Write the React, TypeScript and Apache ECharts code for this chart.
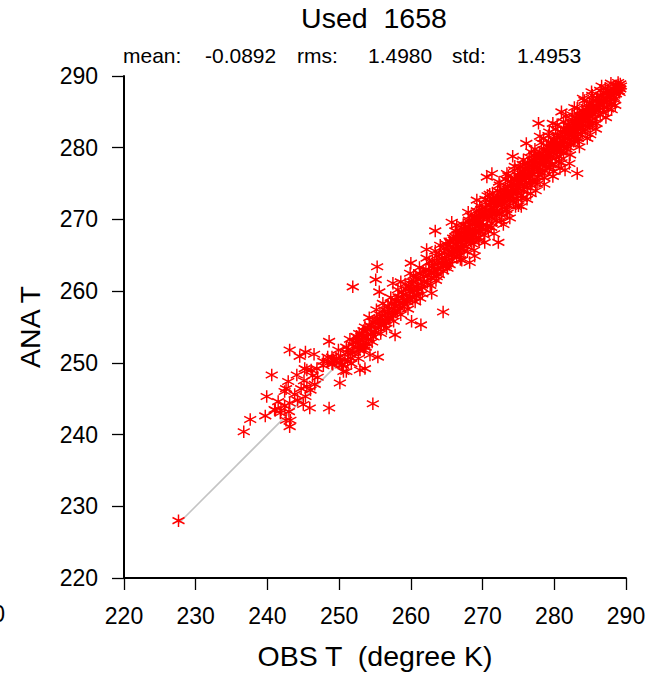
import React, { useEffect, useRef } from "react";
import * as echarts from "echarts";

const titleText = "Used  1658";
const statLabels = ["mean:", "rms:", "std:"];
const statValues = ["-0.0892", "1.4980", "1.4953"];
const xAxisName = "OBS T  (degree K)";
const yAxisName = "ANA T";
const axisMin = 220;
const axisMax = 290;
const axisStep = 10;

// y = x reference line (from the smallest observation to the largest)
const diagonal = [
  [227.6, 227.6],
  [289.3, 289.3],
];

// sparse cold tail
const tailPoints = [
  [227.6, 228.0], [236.7, 240.4], [237.6, 242.1], [239.9, 245.3], [239.7, 242.6], [240.6, 248.3],
  [241.5, 244.6], [241.0, 243.5], [241.9, 243.4], [242.4, 244.0], [242.6, 246.4], [243.0, 243.2],
  [243.2, 242.0], [243.1, 241.1], [243.1, 251.8], [244.5, 250.9], [245.3, 251.5], [246.5, 251.2],
  [248.6, 253.0], [248.6, 243.7], [245.9, 243.7], [244.1, 248.3], [245.2, 249.2], [246.1, 249.0],
  [244.2, 244.8], [245.3, 245.3], [244.7, 246.4], [246.0, 246.2], [245.1, 247.5], [246.6, 247.0],
  [247.8, 249.6], [248.4, 250.2], [249.1, 249.8], [249.4, 250.3], [250.0, 250.0], [250.5, 249.7],
  [248.4, 250.8], [249.9, 251.8], [251.0, 252.2], [250.1, 247.2], [250.6, 248.8], [254.7, 244.3],
  [242.9, 247.4], [242.4, 246.0], [241.1, 243.4], [241.8, 243.0], [242.6, 242.0], [243.1, 244.4],
  [243.8, 245.6], [245.0, 244.2], [245.5, 246.7], [246.3, 248.2], [247.0, 248.0], [245.5, 249.0],
  [246.9, 249.2], [247.8, 250.2], [249.0, 249.9], [249.2, 250.4], [250.3, 249.7], [251.0, 248.8],
  [251.7, 249.9], [252.7, 251.8], [253.4, 252.3], [254.3, 251.1], [252.9, 249.0], [253.6, 249.2],
  [249.6, 250.6], [250.2, 251.0], [249.0, 250.8], [250.8, 250.4], [251.2, 251.4],
];

// 251 - 262 K
const midPoints = [
  [251.3, 251.9], [251.6, 250.7], [251.8, 252.6], [251.5, 253.3], [251.2, 250.2], [251.9, 251.4],
  [251.9, 260.6],
  [252.0, 252.9], [252.2, 251.5], [252.4, 253.7], [252.5, 252.2], [252.7, 250.6], [252.8, 254.1],
  [252.3, 252.8], [252.9, 251.9], [252.6, 253.0], [252.5, 253.6],
  [253.0, 252.4], [253.2, 254.0], [253.3, 253.1], [253.5, 251.8], [253.6, 255.0], [253.8, 253.6],
  [253.9, 252.7], [253.4, 254.5], [253.1, 253.7], [253.7, 252.2],
  [254.0, 254.6], [254.1, 253.3], [254.3, 255.2], [254.4, 254.0], [254.6, 252.9], [254.7, 255.7],
  [254.9, 254.4], [254.2, 256.3], [254.8, 253.6], [254.5, 255.0],
  [255.0, 255.6], [255.1, 254.2], [255.3, 256.0], [255.4, 250.8], [255.5, 254.9], [255.6, 259.9],
  [255.7, 256.7], [255.1, 261.6], [255.3, 263.4], [255.9, 255.3], [255.2, 257.4], [255.8, 254.1],
  [255.6, 256.2],
  [256.0, 256.6], [256.2, 255.3], [256.3, 257.4], [256.5, 256.0], [256.6, 254.8], [256.8, 257.9],
  [256.9, 256.3], [256.1, 258.3], [256.4, 255.6], [256.7, 256.9],
  [257.0, 257.5], [257.1, 256.2], [257.3, 258.3], [257.5, 257.0], [257.5, 261.1], [257.6, 255.8],
  [257.8, 253.9], [257.8, 258.8], [257.9, 257.3], [257.2, 259.1], [257.4, 256.6], [257.7, 257.9],
  [258.0, 258.5], [258.1, 257.2], [258.3, 259.2], [258.4, 258.0], [258.6, 256.7], [258.7, 259.8],
  [258.9, 258.4], [258.2, 260.2], [258.5, 257.6], [258.8, 259.0], [258.6, 261.3],
  [259.0, 259.5], [259.1, 258.1], [259.3, 260.3], [259.4, 258.9], [259.6, 257.5], [259.7, 260.6],
  [259.9, 262.5], [259.9, 259.2], [259.2, 261.0], [259.5, 258.5], [259.8, 260.0],
  [260.0, 263.9], [260.0, 260.4], [260.1, 255.8], [260.2, 259.2], [260.3, 261.3], [260.5, 260.0],
  [260.6, 258.5], [260.7, 261.8], [260.9, 260.4], [260.4, 262.2], [260.8, 259.4], [260.1, 261.0],
  [261.0, 261.6], [261.1, 260.2], [261.3, 262.4], [261.4, 255.3], [261.4, 261.0], [261.6, 259.6],
  [261.7, 262.8], [261.9, 261.3], [261.2, 263.3], [261.5, 260.5], [261.8, 262.1], [261.3, 259.0],
  [262.2, 265.8], [263.4, 268.4], [264.5, 257.1], [265.7, 269.6], [262.9, 259.7],
];

// dense warm band 262 - 290 K
const bandPoints = [
  [262.1, 263.0], [262.3, 261.2], [262.5, 262.9], [262.6, 264.1], [262.8, 261.9], [262.9, 263.4],
  [262.4, 262.2], [262.7, 260.8], [262.2, 264.6], [262.9, 262.5],
  [263.0, 264.2], [263.2, 262.6], [263.3, 263.7], [263.5, 261.5], [263.6, 264.9], [263.7, 263.1],
  [263.9, 262.3], [263.4, 265.6], [263.8, 264.0], [263.1, 263.5], [263.6, 262.0],
  [264.0, 265.1], [264.2, 263.3], [264.3, 264.6], [264.5, 262.8], [264.6, 265.9], [264.8, 264.1],
  [264.9, 263.6], [264.1, 266.4], [264.4, 264.0], [264.7, 265.3], [264.5, 263.4], [264.9, 266.6],
  [265.0, 264.2], [265.1, 266.3], [265.3, 265.0], [265.4, 263.7], [265.5, 266.8], [265.7, 265.5],
  [265.8, 264.3], [265.9, 267.4], [265.2, 265.8], [265.6, 264.9], [265.4, 267.0], [265.9, 265.1],
  [265.1, 263.2],
  [266.0, 267.1], [266.1, 265.4], [266.3, 266.6], [266.4, 264.9], [266.5, 267.9], [266.6, 266.2],
  [266.8, 265.0], [266.9, 267.3], [266.2, 268.4], [266.7, 266.9], [266.5, 265.8], [266.9, 264.4],
  [266.3, 267.5], [266.8, 268.0],
  [267.0, 266.1], [267.1, 268.2], [267.2, 267.0], [267.4, 265.6], [267.5, 268.7], [267.6, 267.4],
  [267.7, 266.2], [267.9, 268.4], [267.3, 269.3], [267.8, 267.1], [267.4, 267.9], [267.9, 265.5],
  [267.2, 266.5], [267.6, 269.0],
  [268.0, 268.9], [268.1, 267.3], [268.2, 269.6], [268.4, 268.1], [268.5, 266.6], [268.6, 269.2],
  [268.7, 267.7], [268.9, 270.1], [268.3, 268.5], [268.8, 266.9], [268.4, 270.5], [268.6, 268.0],
  [268.2, 264.0], [268.9, 264.9], [268.9, 268.3], [268.1, 269.9],
  [269.0, 268.2], [269.1, 270.3], [269.2, 269.1], [269.4, 267.5], [269.5, 270.8], [269.6, 269.5],
  [269.7, 268.3], [269.8, 271.4], [269.3, 269.9], [269.9, 268.9], [269.5, 267.0], [269.2, 271.2],
  [269.7, 270.2], [269.0, 269.6], [269.2, 272.7],
  [270.0, 271.0], [270.1, 269.3], [270.2, 270.6], [270.4, 268.6], [270.5, 271.7], [270.6, 270.2],
  [270.7, 269.0], [270.9, 272.1], [270.3, 270.9], [270.8, 268.4], [270.4, 272.8], [270.6, 271.3],
  [270.9, 270.5], [270.2, 267.8], [270.7, 273.3], [270.6, 275.9],
  [271.0, 270.4], [271.1, 272.4], [271.2, 271.1], [271.3, 269.5], [271.5, 272.9], [271.6, 270.6],
  [271.7, 271.9], [271.9, 269.8], [271.4, 273.7], [271.8, 272.6], [271.2, 268.9], [271.5, 271.5],
  [271.9, 271.0], [271.3, 276.4],
  [272.0, 273.0], [272.1, 271.2], [272.2, 272.5], [272.4, 270.7], [272.5, 273.8], [272.6, 272.1],
  [272.7, 270.9], [272.9, 274.2], [272.3, 272.9], [272.8, 271.6], [272.4, 274.8], [272.6, 269.8],
  [272.9, 273.1], [272.2, 266.8], [272.1, 274.0], [272.7, 272.8],
  [273.0, 272.3], [273.1, 274.1], [273.2, 273.0], [273.3, 271.4], [273.5, 274.6], [273.6, 273.3],
  [273.7, 271.9], [273.9, 275.3], [273.4, 273.8], [273.8, 272.7], [273.2, 275.6], [273.5, 270.9],
  [273.9, 274.0], [273.1, 272.5], [273.6, 276.1],
  [274.0, 275.0], [274.1, 273.1], [274.2, 274.4], [274.3, 272.6], [274.5, 275.7], [274.6, 274.1],
  [274.7, 272.9], [274.9, 276.2], [274.4, 276.9], [274.8, 273.7], [274.3, 274.8], [274.6, 271.8],
  [274.9, 275.2], [274.2, 278.8], [274.7, 275.5], [274.2, 273.7],
  [275.0, 274.3], [275.1, 276.1], [275.2, 275.2], [275.4, 273.4], [275.5, 276.7], [275.6, 275.4],
  [275.7, 273.9], [275.9, 277.1], [275.3, 275.9], [275.8, 274.6], [275.4, 271.8], [275.6, 277.7],
  [275.9, 275.9], [275.1, 274.6], [275.5, 272.9], [275.3, 277.3],
  [276.0, 277.0], [276.1, 275.1], [276.2, 276.3], [276.3, 274.5], [276.5, 277.6], [276.6, 276.0],
  [276.7, 274.8], [276.9, 278.2], [276.4, 275.7], [276.8, 276.8], [276.1, 280.6], [276.5, 278.7],
  [276.9, 275.3], [276.3, 277.8], [276.7, 273.6], [276.2, 276.9],
  [277.0, 276.3], [277.1, 278.1], [277.2, 277.1], [277.3, 275.3], [277.5, 278.6], [277.6, 277.3],
  [277.7, 275.9], [277.9, 279.0], [277.4, 277.9], [277.8, 276.6], [277.8, 283.4], [277.3, 279.8],
  [277.9, 277.7], [277.0, 277.5], [277.6, 274.9], [277.2, 278.9],
  [278.0, 279.1], [278.1, 277.0], [278.2, 278.3], [278.3, 276.5], [278.5, 279.7], [278.6, 278.1],
  [278.7, 276.8], [278.9, 280.2], [278.4, 277.6], [278.8, 278.8], [278.2, 280.7], [278.6, 275.8],
  [278.9, 277.9], [278.1, 278.6], [278.5, 281.3], [278.3, 279.2],
  [279.0, 278.3], [279.1, 280.1], [279.2, 279.0], [279.3, 277.3], [279.5, 280.6], [279.6, 279.4],
  [279.7, 277.8], [279.9, 281.1], [279.4, 278.7], [279.8, 279.9], [279.8, 283.4], [279.9, 276.7],
  [279.2, 281.7], [279.5, 277.6], [279.0, 279.6], [279.7, 280.5],
  [280.0, 281.0], [280.1, 279.1], [280.2, 280.4], [280.3, 278.6], [280.5, 281.7], [280.6, 280.0],
  [280.7, 278.8], [280.9, 282.2], [280.4, 279.6], [280.8, 280.7], [280.8, 277.1], [280.2, 282.6],
  [280.6, 278.0], [280.0, 280.3], [280.4, 281.4], [280.9, 279.4],
  [281.0, 280.3], [281.1, 282.1], [281.2, 281.1], [281.3, 279.3], [281.5, 282.6], [281.6, 281.3],
  [281.7, 279.8], [281.9, 283.1], [281.4, 280.7], [281.8, 281.9], [281.0, 285.0], [281.5, 276.9],
  [281.3, 283.6], [281.9, 280.1], [281.1, 281.6], [281.7, 282.4],
  [282.0, 283.0], [282.1, 281.1], [282.2, 282.3], [282.3, 280.5], [282.5, 283.6], [282.6, 282.0],
  [282.7, 280.9], [282.9, 284.1], [282.4, 281.6], [282.8, 282.8], [282.1, 277.8], [282.5, 284.6],
  [282.9, 281.4], [282.1, 282.6], [282.6, 283.3],
  [283.0, 282.3], [283.1, 284.1], [283.2, 283.1], [283.3, 281.3], [283.5, 284.6], [283.6, 283.3],
  [283.7, 281.8], [283.9, 285.2], [283.4, 282.7], [283.8, 283.9], [283.3, 280.9], [283.2, 276.4],
  [283.2, 285.5], [283.9, 282.2], [283.0, 283.6], [283.6, 284.3],
  [284.0, 285.0], [284.1, 283.1], [284.2, 284.3], [284.3, 282.5], [284.5, 285.6], [284.6, 284.0],
  [284.7, 282.9], [284.9, 286.1], [284.4, 283.6], [284.8, 284.8], [284.2, 286.6], [284.9, 283.3],
  [284.1, 284.6], [284.6, 285.2],
  [285.0, 284.3], [285.1, 286.1], [285.2, 285.1], [285.3, 283.4], [285.5, 286.6], [285.6, 285.3],
  [285.7, 284.0], [285.9, 286.9], [285.2, 287.8], [285.0, 281.8], [285.9, 283.4], [285.4, 284.7],
  [285.8, 285.8], [285.1, 285.6],
  [286.0, 286.9], [286.1, 285.2], [286.3, 286.3], [286.4, 284.6], [286.5, 287.3], [286.7, 286.0],
  [286.8, 284.9], [286.9, 287.7], [286.2, 285.7], [286.6, 286.7], [286.4, 288.0], [286.9, 285.6],
  [287.0, 286.2], [287.2, 287.5], [287.3, 286.7], [287.5, 285.4], [287.6, 287.9], [287.8, 287.4],
  [287.9, 286.0], [287.1, 288.3], [287.4, 287.0], [287.7, 286.5],
  [288.0, 287.3], [288.0, 285.3], [288.2, 288.2], [288.3, 287.0], [288.5, 288.6], [288.6, 287.5],
  [288.8, 288.3], [288.4, 286.7], [288.9, 288.7],
  [289.0, 288.4], [289.2, 288.9], [289.1, 287.7], [289.3, 288.6], [288.9, 289.1], [289.0, 287.9],
  [289.2, 288.2],
];

// extra stars along the band's upper and lower fringes and its core
const bandFringe = [
  [266.4, 269.2], [267.1, 264.3], [268.0, 271.0], [268.8, 265.7], [269.6, 271.9], [270.3, 266.8],
  [271.0, 273.5], [271.6, 268.0], [272.3, 275.2], [272.9, 269.3], [273.4, 276.4], [273.8, 270.2],
  [274.5, 277.4], [275.0, 271.9], [275.7, 278.3], [276.2, 272.8], [276.8, 279.4], [277.4, 274.0],
  [278.0, 281.6], [278.6, 274.9], [279.3, 282.2], [279.8, 276.0], [280.4, 283.2], [281.0, 277.9],
  [281.6, 284.4], [282.2, 279.0], [282.8, 285.6], [283.5, 280.1], [284.0, 286.9], [284.6, 281.3],
  [285.3, 287.3], [285.8, 282.6], [286.6, 288.6], [287.2, 284.2], [287.9, 289.0], [288.5, 285.9],
  [266.2, 266.0], [267.0, 267.6], [268.3, 267.0], [269.4, 269.0], [270.1, 270.3], [271.4, 270.9],
  [272.0, 272.1], [273.0, 273.5], [274.0, 273.9], [275.2, 275.8], [276.0, 276.1], [277.1, 277.3],
  [278.0, 278.0], [279.1, 279.2], [280.1, 280.0], [281.2, 281.0], [282.2, 282.0], [283.1, 283.3],
  [284.3, 284.1], [285.4, 285.5], [286.2, 286.2], [287.4, 287.9], [288.7, 288.0],
];

const FONT = "'Liberation Sans', Arial, Helvetica, sans-serif";
const STAR = "path://M5,0 L5,12 M0,3 L10,9 M0,9 L10,3";

function starSeries(data: number[][]) {
  return {
    type: "scatter",
    data,
    symbol: STAR,
    symbolSize: [12, 12.5],
    silent: true,
    itemStyle: { color: "#ff0000", borderColor: "#ff0000", borderWidth: 1.5, opacity: 1 },
    z: 3,
  };
}

function statText(text: string, x: number) {
  return {
    type: "text",
    x,
    y: 55,
    style: { text, fontSize: 21, fontFamily: FONT, fill: "#000", align: "left", verticalAlign: "middle" },
  };
}

export default function App() {
  const ref = useRef<HTMLDivElement>(null);
  useEffect(() => {
    if (!ref.current) return;
    const chart = echarts.init(ref.current, undefined, { renderer: "svg" });
    const axisCommon = {
      type: "value",
      min: axisMin,
      max: axisMax,
      interval: axisStep,
      splitLine: { show: false },
      axisLine: { show: true, onZero: false, lineStyle: { color: "#000", width: 2 } },
      axisTick: { show: true, inside: false, length: 12, lineStyle: { color: "#000", width: 1.3 } },
      axisLabel: { color: "#000", fontSize: 23, fontFamily: FONT, margin: 26 },
      nameLocation: "middle",
      nameTextStyle: { color: "#000", fontSize: 28.5, fontFamily: FONT },
    };
    chart.setOption({
      animation: false,
      backgroundColor: "#fff",
      grid: { left: 124, top: 76, width: 502, height: 502, containLabel: false },
      xAxis: { ...axisCommon, name: xAxisName, nameGap: 63 },
      yAxis: { ...axisCommon, name: yAxisName, nameGap: 80 },
      graphic: [
        {
          type: "text",
          x: 374,
          y: 18,
          style: { text: titleText, fontSize: 28.5, fontFamily: FONT, fill: "#000", align: "center", verticalAlign: "middle" },
        },
        statText(statLabels[0], 123),
        statText(statValues[0], 205),
        statText(statLabels[1], 297),
        statText(statValues[1], 368),
        statText(statLabels[2], 452),
        statText(statValues[2], 517),
        { type: "text", x: 5, y: 614, style: { text: "0", fontSize: 23, fontFamily: FONT, fill: "#000", align: "right", verticalAlign: "middle" } },
      ],
      series: [
        {
          type: "line",
          data: diagonal,
          symbol: "none",
          silent: true,
          lineStyle: { color: "#c4c4c4", width: 1.6 },
          z: 2,
        },
        starSeries(tailPoints),
        starSeries(midPoints),
        starSeries(bandPoints),
        starSeries(bandFringe),
      ],
    });
    return () => chart.dispose();
  }, []);
  return <div ref={ref} style={{ width: 658, height: 677, position: "absolute", left: 0, top: 0 }} />;
}
